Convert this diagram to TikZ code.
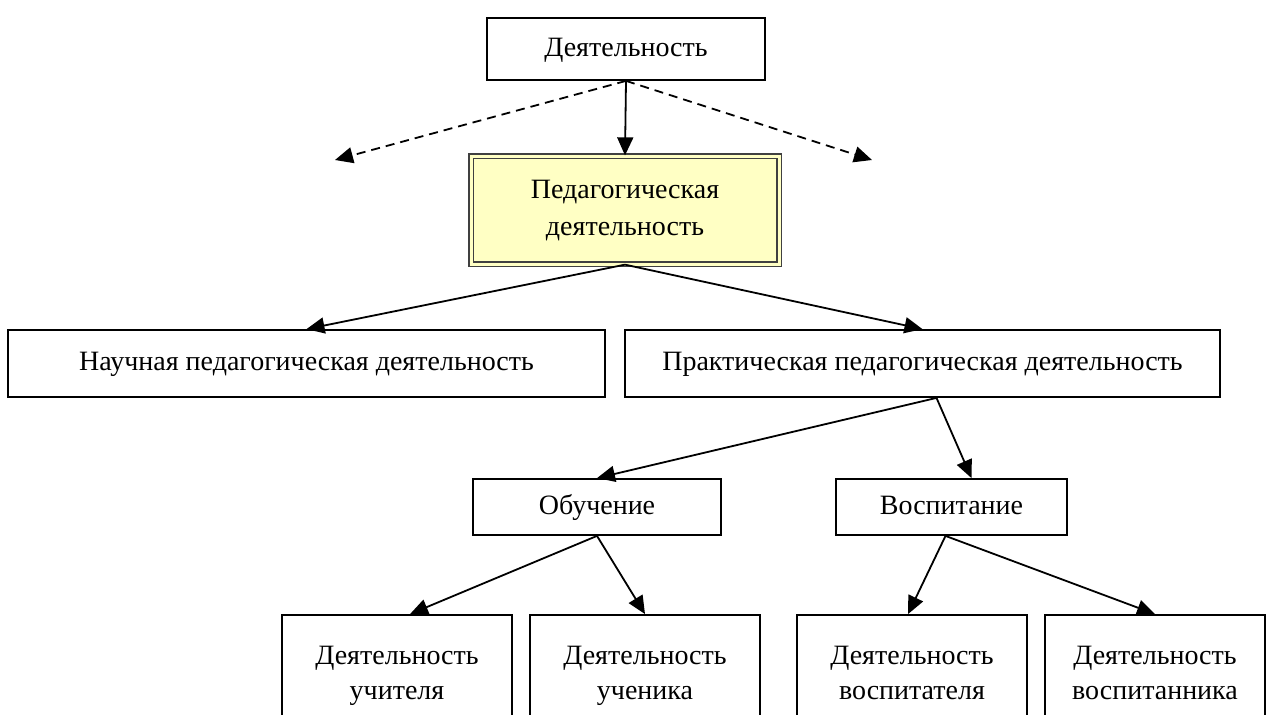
\documentclass[tikz,border=0pt]{standalone}
\usepackage{fontspec}
\setmainfont{Liberation Serif}
\usetikzlibrary{arrows.meta}
\definecolor{pedfill}{HTML}{FFFFC4}
\begin{document}
\begin{tikzpicture}[x=1pt,y=-1pt,
  box/.style={draw=black, line width=1.8pt, fill=white, inner sep=0pt,
    font=\fontsize{28}{37}\selectfont, align=center},
  lowbox/.style={box, font=\fontsize{28}{35}\selectfont, minimum height=126pt},
  arr/.style={line width=1.8pt, -{Triangle[length=18pt,width=16pt]}},
  darr/.style={arr, dash pattern=on 9pt off 6pt}]
\useasboundingbox (0,0) rectangle (1267,715);
\clip (0,0) rectangle (1267,715);
\node[box, minimum width=278pt, minimum height=62pt] (top) at (626,49) {Деятельность\strut};
\node[box, fill=pedfill, draw=black!75, line width=1.3pt, double=pedfill, double distance=3pt,
  minimum width=308pt, minimum height=108pt, text depth=4pt] (ped) at (625,210) {Педагогическая\\деятельность\strut};
\node[box, minimum width=597pt, minimum height=67pt] (sci) at (306.5,363.5) {Научная педагогическая деятельность\strut};
\node[box, minimum width=595pt, minimum height=67pt] (prac) at (922.5,363.5) {Практическая педагогическая деятельность\strut};
\node[box, minimum width=248pt, minimum height=56pt] (obuch) at (597,507) {Обучение\strut};
\node[box, minimum width=231pt, minimum height=56pt] (vosp) at (951.5,507) {Воспитание\strut};
\node[lowbox, minimum width=230pt] (b1) at (397,678) {Деятельность\\учителя\strut};
\node[lowbox, minimum width=230pt] (b2) at (645,678) {Деятельность\\ученика\strut};
\node[lowbox, minimum width=230pt] (b3) at (912,678) {Деятельность\\воспитателя\strut};
\node[lowbox, minimum width=220pt] (b4) at (1155,678) {Деятельность\\воспитанника\strut};
\coordinate (dl) at (335,160);
\coordinate (dr) at (872,160);
\draw[arr] (top.south) -- (ped.north);
\draw[darr] (top.south) -- (dl);
\draw[darr] (top.south) -- (dr);
\draw[arr] (ped.south) -- (sci.north);
\draw[arr] (ped.south) -- (prac.north);
\draw[arr] ([xshift=14pt]prac.south) -- (obuch.north);
\draw[arr] ([xshift=14pt]prac.south) -- ([xshift=20pt]vosp.north);
\draw[arr] (obuch.south) -- ([xshift=13pt]b1.north);
\draw[arr] (obuch.south) -- (b2.north);
\draw[arr] ([xshift=-6pt]vosp.south) -- ([xshift=-4pt]b3.north);
\draw[arr] ([xshift=-6pt]vosp.south) -- (b4.north);
\end{tikzpicture}
\end{document}
